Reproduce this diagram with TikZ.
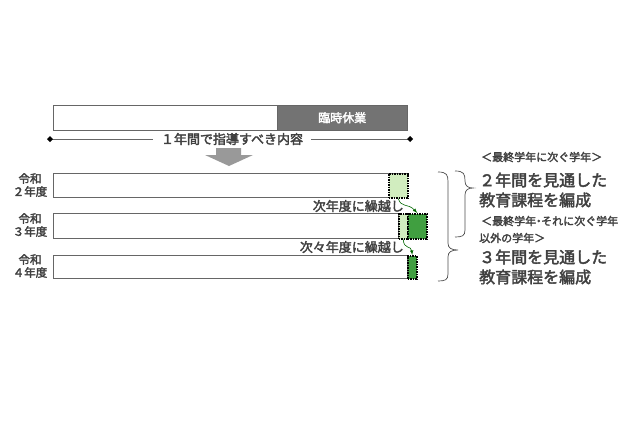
\documentclass[tikz,border=0pt]{standalone}
\usepackage{fontspec}
\setmainfont{Noto Sans CJK JP}[AutoFakeBold=2.5]
\begin{document}
\begin{tikzpicture}[x=1pt,y=-1pt,
  txt/.style={text=black!75,font=\bfseries\fontsize{13}{14}\selectfont,inner sep=0pt},
  lab/.style={text=black!75,font=\bfseries\fontsize{11.5}{13}\selectfont,inner sep=0pt},
  big/.style={text=black!75,font=\bfseries\fontsize{16}{18}\selectfont,inner sep=0pt,anchor=west},
  sml/.style={text=black!75,font=\bfseries\fontsize{11}{12}\selectfont,inner sep=0pt,anchor=west},
  bar/.style={draw=black!60,fill=white,line width=0.6pt},
  lg/.style={fill=green!45!olive!25,draw=black,densely dotted,line width=1.5pt},
  dg/.style={fill=green!50!black!75,draw=black,densely dotted,line width=1.5pt},
  garr/.style={->,>=latex,draw=green!40!black,line width=0.6pt},
  brace/.style={draw=black!70,line width=0.7pt}]
\useasboundingbox (0,0) rectangle (640,426);
% top bar
\node[bar,minimum width=354,minimum height=25,anchor=north west,inner sep=0] (top) at (53,105) {};
\node[fill=black!55,draw=black!60,minimum width=130,minimum height=25,anchor=north west,inner sep=0,text=white,font=\bfseries\fontsize{12}{13}\selectfont] (rin) at (277,105) {臨時休業};
\coordinate (L) at (50,139); \coordinate (R) at (410,139);
\node[txt,fill=white,inner xsep=8pt] (one) at (232,139) {１年間で指導すべき内容};
\draw[black!60] (L) -- (one.west) (one.east) -- (R);
\fill[black] (L) ++(-3,0) -- ++(3,-3) -- ++(3,3) -- ++(-3,3) -- cycle;
\fill[black] (R) ++(-3,0) -- ++(3,-3) -- ++(3,3) -- ++(-3,3) -- cycle;
% down arrow
\fill[black!40] (216,148) -- (241,148) -- (241,155) -- (253,155) -- (229,166) -- (205,155) -- (216,155) -- cycle;
% bars
\node[bar,minimum width=354,minimum height=24,anchor=north west,inner sep=0] (b1) at (53,173) {};
\node[lg,minimum width=19,minimum height=24,anchor=north west,inner sep=0] (g1) at (388,173) {};
\node[bar,minimum width=345,minimum height=25,anchor=north west,inner sep=0] (b2) at (53,213) {};
\node[lg,minimum width=9,minimum height=25,anchor=north west,inner sep=0] (g2) at (398,213) {};
\node[dg,minimum width=19,minimum height=25,anchor=north west,inner sep=0] (d2) at (407,213) {};
\node[bar,minimum width=354,minimum height=23,anchor=north west,inner sep=0] (b3) at (53,255) {};
\node[dg,minimum width=9,minimum height=23,anchor=north west,inner sep=0] (d3) at (407,255) {};
% labels left
\node[lab,align=center] (y2) at (30,185) {令和\\２年度};
\node[lab,align=center] (y3) at (30,225) {令和\\３年度};
\node[lab,align=center] (y4) at (30,266) {令和\\４年度};
\node[txt,anchor=east,fill=white,inner xsep=1pt] (c1) at (405,206) {次年度に繰越し};
\node[txt,anchor=east,fill=white,inner xsep=1pt] (c2) at (405,247) {次々年度に繰越し};
\draw[garr] (g1.south) .. controls (401,208) and (408,203) .. (d2.north);
\draw[garr] (g2.south) .. controls (404,250) and (411,245) .. (d3.north);
% braces
\draw[brace] (455,171) .. controls (464,171) and (465,174) .. (465,181) .. controls (465,186) and (468,188) .. (473,188) .. controls (468,188) and (465,190) .. (465,195) -- (465,230) .. controls (465,236) and (462,237) .. (455,237);
\draw[brace] (438,172) .. controls (447,172) and (448,175) .. (448,182) -- (448,243) .. controls (448,248) and (451,250) .. (458,250) .. controls (451,250) and (448,252) .. (448,257) -- (448,274) .. controls (448,280) and (445,281) .. (438,281);
% right texts
\node[sml] (t1) at (481,157) {＜最終学年に次ぐ学年＞};
\node[big] (t2) at (479,180) {２年間を見通した};
\node[big] (t3) at (479,200) {教育課程を編成};
\node[sml] (t4) at (481,221) {＜最終学年\kern-3pt・\kern-3ptそれに次ぐ学年};
\node[sml] (t5) at (479,238) {以外の学年＞};
\node[big] (t6) at (479,257) {３年間を見通した};
\node[big] (t7) at (479,277) {教育課程を編成};
\end{tikzpicture}
\end{document}
